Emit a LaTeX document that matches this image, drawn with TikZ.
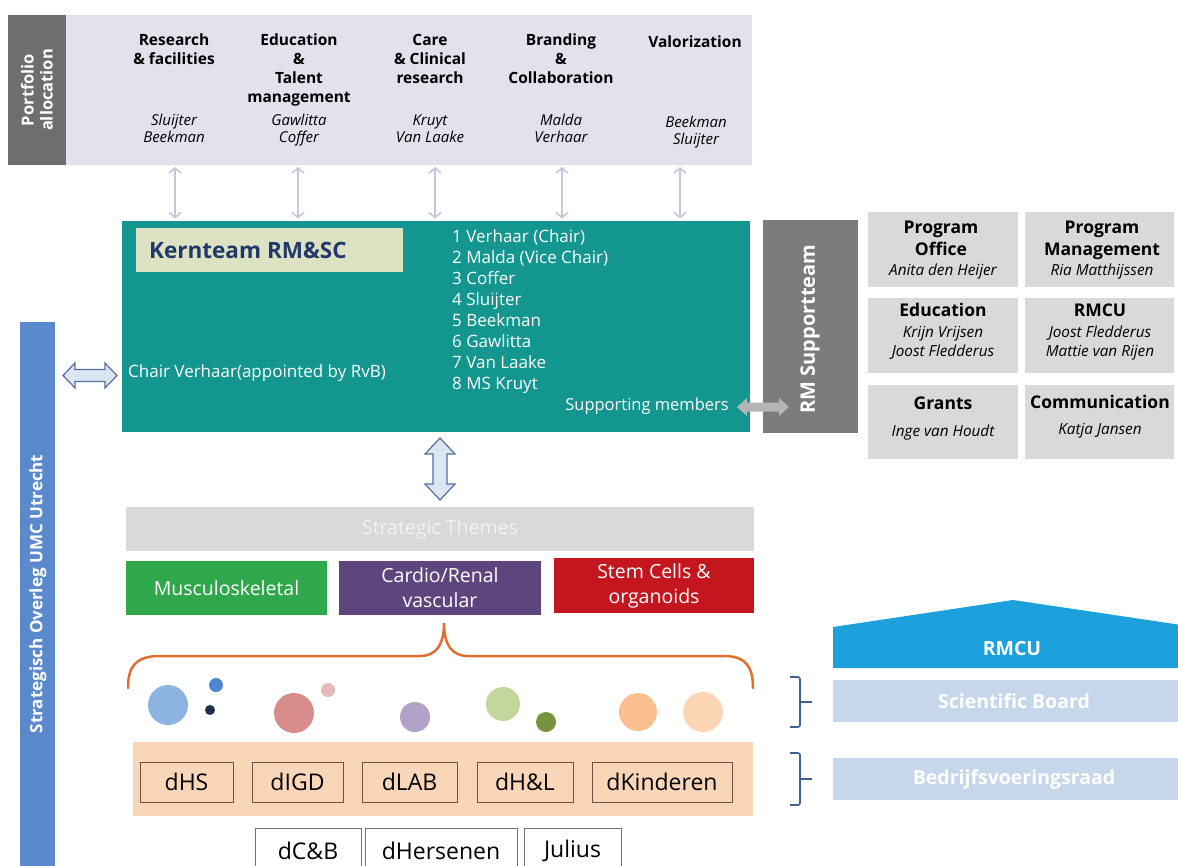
\documentclass[tikz,border=0pt]{standalone}
\usepackage{fontspec}
\setmainfont{Open Sans}
\usetikzlibrary{arrows.meta}
\definecolor{lav}{HTML}{E5E1EC}
\definecolor{pgray}{HTML}{6E6E6E}
\definecolor{teal1}{HTML}{12968F}
\definecolor{kbox}{HTML}{DDE2C3}
\definecolor{navy}{HTML}{22386A}
\definecolor{sgray}{HTML}{7C7C7C}
\definecolor{lgray}{HTML}{D9D9D9}
\definecolor{sbar}{HTML}{5A8ACB}
\definecolor{arrfill}{HTML}{DCE6F2}
\definecolor{arrline}{HTML}{5470A0}
\definecolor{thinc}{HTML}{C9C4D8}
\definecolor{garr}{HTML}{B5B5B5}
\definecolor{mgreen}{HTML}{2EA84B}
\definecolor{mpurple}{HTML}{5F457E}
\definecolor{mred}{HTML}{C3161F}
\definecolor{bracec}{HTML}{E07030}
\definecolor{peach}{HTML}{FAD6B8}
\definecolor{brownc}{HTML}{6E5140}
\definecolor{rmcuc}{HTML}{1DA1DC}
\definecolor{pale}{HTML}{C6D6EB}
\definecolor{bracketc}{HTML}{44608F}
\definecolor{c1}{HTML}{8DB3E2}
\definecolor{c2}{HTML}{4F86D0}
\definecolor{c3}{HTML}{1F2D4E}
\definecolor{c4}{HTML}{D98C8C}
\definecolor{c5}{HTML}{E6B9B8}
\definecolor{c6}{HTML}{B3A2C7}
\definecolor{c7}{HTML}{C3D69B}
\definecolor{c8}{HTML}{77933C}
\definecolor{c9}{HTML}{FAC090}
\definecolor{c10}{HTML}{FCD5B5}
\newcommand{\fsz}[2]{\fontsize{#1}{#2}\selectfont}
\tikzset{
  blk/.style={inner sep=0pt, outer sep=0pt},
  hdr/.style={font=\bfseries\fsz{15.5}{19.3}, align=center, anchor=base, inner sep=0pt},
  nms/.style={font=\itshape\fsz{15}{17.5}, align=center, anchor=base, inner sep=0pt},
  thinarr/.style={draw=thinc, line width=1.6pt, shorten <=2pt, shorten >=2pt,
     {Straight Barb[length=5pt,width=12pt]}-{Straight Barb[length=5pt,width=12pt]}},
  rbox/.style={blk, fill=lgray, minimum width=150, minimum height=75},
  rtitle/.style={font=\bfseries\fsz{17.5}{22}, align=center, anchor=base, inner sep=0pt},
  rname/.style={font=\itshape\fsz{15.3}{19}, align=center, anchor=base, inner sep=0pt},
  hollow/.style={draw=arrline, fill=arrfill, line width=1.2pt, line join=miter},
  theme/.style={blk, text=white, font=\fsz{19.5}{25}, align=center, minimum height=54},
  dept/.style={blk, draw=brownc, line width=1pt, fill=peach, font=\fsz{23}{26}, minimum height=40},
  dext/.style={blk, draw=black!55, line width=0.8pt, fill=white, font=\fsz{23}{26}, minimum height=46},
  bracketst/.style={draw=bracketc, line width=1.6pt, rounded corners=2pt},
  paleb/.style={blk, fill=pale, text=white, font=\bfseries\fsz{19.5}{24}, minimum width=362, minimum height=42}
}
\begin{document}
\begin{tikzpicture}[x=1pt,y=-1pt]
\useasboundingbox (0,0) rectangle (1178,865);
\clip (0,0) rectangle (1178,865);

% ---------- Portfolio allocation ----------
\node[blk, fill=pgray, minimum width=58, minimum height=150] (pa) at (37,90) {};
\node[rotate=90, text=white, font=\bfseries\fsz{16.5}{19}, align=center, inner sep=0pt] (patext) at (pa.center) {Portfolio\\allocation};
\node[blk, fill=lav, minimum width=686, minimum height=150] (pp) at (409,90) {};

\node[hdr] (h1) at (174,64.3) {Research\\\& facilities};
\node[nms] (n1) at (174,142.5) {Sluijter\\Beekman};
\node[hdr] (h2) at (299,102.9) {Education\\\&\\Talent\\management};
\node[nms] (n2) at (299,142.5) {Gawlitta\\Coffer};
\node[hdr] (h3) at (430,83.6) {Care\\\& Clinical\\research};
\node[nms] (n3) at (430,142.5) {Kruyt\\Van Laake};
\node[hdr] (h4) at (561,83.6) {Branding\\\&\\Collaboration};
\node[nms] (n4) at (561,142.5) {Malda\\Verhaar};
\node[hdr] (h5) at (695,47) {Valorization};
\node[nms] (n5) at (696,144.5) {Beekman\\Sluijter};

% ---------- Kernteam ----------
\node[blk, fill=teal1, minimum width=628, minimum height=211] (kt) at (436,326) {};
\node[blk, fill=kbox, minimum width=267, minimum height=44] (kb) at (269.5,250) {};
\node[anchor=base west, inner sep=0pt, text=navy, font=\bfseries\fsz{22.5}{26}] (kbt) at (149,258) {Kernteam RM\&SC};
\node[anchor=base west, inner sep=0pt, text=white, font=\fsz{17}{20}] (chair) at (128,377) {Chair Verhaar(appointed by RvB)};
\node[anchor=base west, inner sep=0pt, text=white, font=\fsz{17}{21.1}, align=left] (list) at (452,389.7)
  {1 Verhaar (Chair)\\2 Malda (Vice Chair)\\3 Coffer\\4 Sluijter\\5 Beekman\\6 Gawlitta\\7 Van Laake\\8 MS Kruyt};
\node[anchor=base east, inner sep=0pt, text=white, font=\fsz{16.5}{20}] (supm) at (729,410) {Supporting members};

% arrows portfolio <-> kernteam
\coordinate (a1) at (175,0);
\coordinate (a2) at (298,0);
\coordinate (a3) at (435,0);
\coordinate (a4) at (562,0);
\coordinate (a5) at (680,0);
\foreach \a in {a1,a2,a3,a4,a5}{
  \draw[thinarr] (pp.south -| \a) -- (kt.north -| \a);
}

% ---------- RM Supportteam ----------
\node[blk, fill=sgray, minimum width=95, minimum height=213] (rms) at (810.5,326.5) {};
\node[rotate=90, text=white, font=\bfseries\fsz{20}{24}, inner sep=0pt] (rmst) at (810,329) {RM Supportteam};
% grey double arrow supporting members <-> RM Supportteam
\coordinate (ga) at (763,407);
\fill[garr, shift={(ga)}] (-26,0) -- (-16,-9) -- (-16,-4.5) -- (16,-4.5) -- (16,-9) -- (26,0)
   -- (16,9) -- (16,4.5) -- (-16,4.5) -- (-16,9) -- cycle;

\node[rbox] (po) at (943,249.5) {};
\node[rbox, minimum width=149] (pm) at (1099.5,249.5) {};
\node[rbox] (ed) at (943,335.5) {};
\node[rbox, minimum width=149] (rm) at (1099.5,335.5) {};
\node[rbox, minimum height=74] (gr) at (943,422) {};
\node[rbox, minimum width=149, minimum height=74] (co) at (1099.5,422) {};

\node[rtitle] (pot) at (941,255) {Program\\Office};
\node[rname] (pon) at (943,275) {Anita den Heijer};
\node[rtitle] (pmt) at (1102,255) {Program\\Management};
\node[rname] (pmn) at (1102,275) {Ria Matthijssen};
\node[rtitle] (edt) at (943,316) {Education};
\node[rname] (edn) at (943,356) {Krijn Vrijsen\\Joost Fledderus};
\node[rtitle] (rmt) at (1100,316) {RMCU};
\node[rname] (rmn) at (1100,356) {Joost Fledderus\\Mattie van Rijen};
\node[rtitle] (grt) at (943,409) {Grants};
\node[rname] (grn) at (943,436) {Inge van Houdt};
\node[rtitle] (cot) at (1100,408) {Communication};
\node[rname] (con) at (1100,434) {Katja Jansen};

% ---------- Strategisch Overleg ----------
\node[blk, fill=sbar, minimum width=35, minimum height=548] (so) at (37.5,596) {};
\node[rotate=90, text=white, font=\bfseries\fsz{17}{20}, inner sep=0pt] (sot) at (38,594) {Strategisch Overleg UMC Utrecht};
% hollow double arrow Strategisch Overleg <-> Kernteam
\coordinate (la) at (90,375.5);
\draw[hollow, shift={(la)}] (-27,0) -- (-15,-12.5) -- (-15,-6) -- (15,-6) -- (15,-12.5) -- (27,0)
   -- (15,12.5) -- (15,6) -- (-15,6) -- (-15,12.5) -- cycle;

% ---------- Strategic themes ----------
% hollow double arrow Kernteam <-> Strategic Themes
\coordinate (va) at (440,469);
\draw[hollow, shift={(va)}] (0,-31) -- (-15,-15) -- (-7,-15) -- (-7,15) -- (-15,15) -- (0,31)
   -- (15,15) -- (7,15) -- (7,-15) -- (15,-15) -- cycle;
\node[blk, fill=lgray, minimum width=628, minimum height=44, text=white!95!black, font=\fsz{19.5}{24}] (st) at (440,529) {Strategic Themes};
\node[theme, fill=mgreen, minimum width=201] (mus) at (226.5,588) {Musculoskeletal};
\node[theme, fill=mpurple, minimum width=202] (car) at (440,588) {Cardio/Renal\\vascular};
\node[theme, fill=mred, minimum width=200, minimum height=55] (stem) at (654,585.5) {Stem Cells \&\\organoids};

% brace
\draw[bracec, line width=2.5pt, line cap=round]
  (128,688) .. controls (128,666) and (136,656) .. (160,656) -- (420,656)
  .. controls (436,656) and (444,645) .. (444,623)
  .. controls (444,645) and (452,656) .. (468,656) -- (724,656)
  .. controls (746,656) and (753,667) .. (753,688);

% circles
\fill[c1] (168,705) circle[radius=20pt];
\fill[c2] (216,685) circle[radius=7pt];
\fill[c3] (210,710) circle[radius=5pt];
\fill[c4] (294,713) circle[radius=20pt];
\fill[c5] (328,690) circle[radius=7pt];
\fill[c6] (415,717) circle[radius=15pt];
\fill[c7] (503,704) circle[radius=17pt];
\fill[c8] (546,722) circle[radius=10pt];
\fill[c9] (638,712) circle[radius=19pt];
\fill[c10] (703,712) circle[radius=20pt];

% departments
\node[blk, fill=peach, minimum width=620, minimum height=74] (band) at (443,779) {};
\node[dept, minimum width=93] (dhs) at (186.5,782) {dHS};
\node[dept, minimum width=91] (digd) at (297.5,782) {dIGD};
\node[dept, minimum width=95] (dlab) at (409.5,782) {dLAB};
\node[dept, minimum width=96] (dhl) at (525,782) {dH\&L};
\node[dept, minimum width=140] (dk) at (662,782) {dKinderen};
\node[dext, minimum width=106] (dcb) at (308,851) {dC\&B};
\node[dext, minimum width=152] (dhe) at (441,851) {dHersenen};
\node[dext, minimum width=97] (jul) at (572.5,851) {Julius};

% ---------- RMCU house ----------
\fill[rmcuc] (833,668) -- (833,627) -- (1013,600) -- (1195,627) -- (1195,668) -- cycle;
\node[text=white, font=\bfseries\fsz{19.5}{24}, inner sep=0pt] (rmcu) at (1012,649) {RMCU};
\node[paleb] (sb) at (1014,701) {Scientific Board};
\node[paleb] (bvr) at (1014,779) {Bedrijfsvoeringsraad};

% brackets
\coordinate (b1) at (800,702);
\coordinate (b2) at (800,779);
\coordinate (t1) at (812,702);
\coordinate (t2) at (812,779);
\draw[bracketst] ([shift={(-10,-25)}]b1) -- ([shift={(0,-25)}]b1) -- ([shift={(0,25)}]b1) -- ([shift={(-10,25)}]b1);
\draw[bracketst] (b1) -- (t1);
\draw[bracketst] ([shift={(-10,-26)}]b2) -- ([shift={(0,-26)}]b2) -- ([shift={(0,26)}]b2) -- ([shift={(-10,26)}]b2);
\draw[bracketst] (b2) -- (t2);
\end{tikzpicture}
\end{document}
